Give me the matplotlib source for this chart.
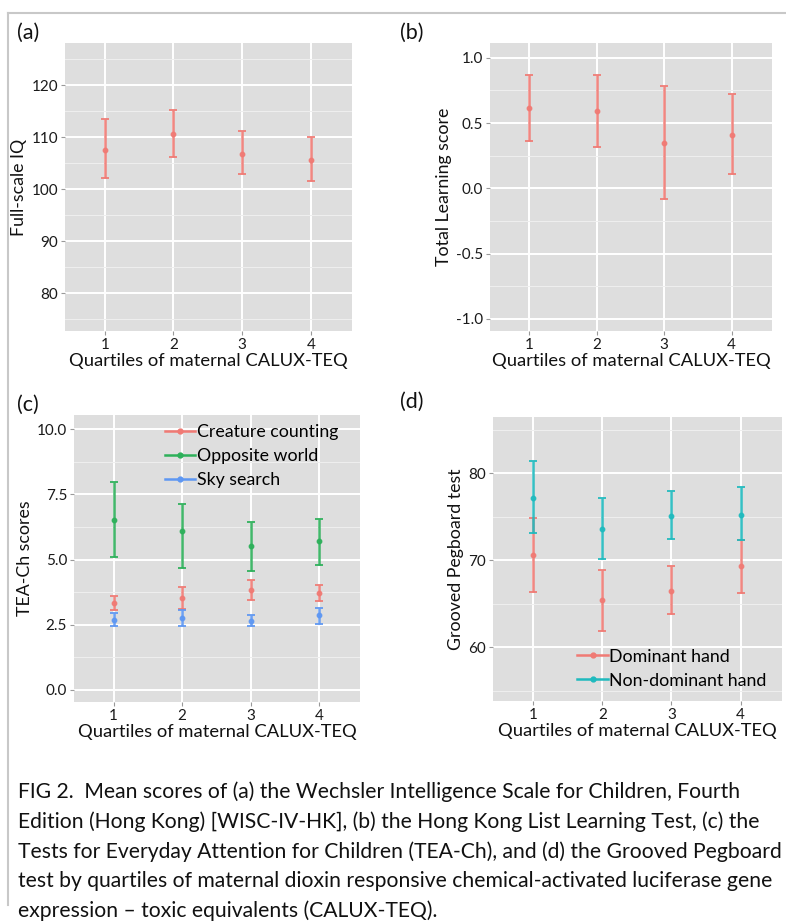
import matplotlib
matplotlib.use("Agg")
import matplotlib.pyplot as plt
from matplotlib.lines import Line2D
from matplotlib.ticker import MultipleLocator

plt.rcParams['font.family'] = ['Lato', 'DejaVu Sans']
plt.rcParams['axes.unicode_minus'] = False

quartiles = [1, 2, 3, 4]

# (a) Full-scale IQ
iq_mean = [107.6, 110.6, 106.7, 105.7]
iq_low = [102.1, 106.1, 102.9, 101.5]
iq_high = [113.5, 115.3, 111.1, 110.1]

# (b) Total learning score
learn_mean = [0.615, 0.59, 0.35, 0.41]
learn_low = [0.36, 0.32, -0.085, 0.11]
learn_high = [0.865, 0.865, 0.78, 0.72]

# (c) TEA-Ch
creature_mean = [3.33, 3.52, 3.85, 3.70]
creature_low = [3.07, 3.10, 3.44, 3.42]
creature_high = [3.61, 3.93, 4.21, 4.02]
opposite_mean = [6.53, 6.10, 5.51, 5.72]
opposite_low = [5.08, 4.69, 4.58, 4.79]
opposite_high = [7.97, 7.13, 6.45, 6.54]
sky_mean = [2.69, 2.76, 2.66, 2.86]
sky_low = [2.44, 2.44, 2.46, 2.54]
sky_high = [2.95, 3.07, 2.88, 3.16]
tea_labels = ["Creature counting", "Opposite world", "Sky search"]

# (d) Grooved Pegboard
dom_mean = [70.6, 65.4, 66.5, 69.35]
dom_low = [66.4, 61.9, 63.8, 66.2]
dom_high = [74.9, 68.9, 69.4, 72.3]
nondom_mean = [77.15, 73.65, 75.06, 75.25]
nondom_low = [73.2, 70.1, 72.4, 72.3]
nondom_high = [81.4, 77.15, 78.0, 78.4]
peg_labels = ["Dominant hand", "Non-dominant hand"]

xlabel = "Quartiles of maternal CALUX-TEQ"
caption = [
    "FIG 2.  Mean scores of (a) the Wechsler Intelligence Scale for Children, Fourth",
    "Edition (Hong Kong) [WISC-IV-HK], (b) the Hong Kong List Learning Test, (c) the",
    "Tests for Everyday Attention for Children (TEA-Ch), and (d) the Grooved Pegboard",
    "test by quartiles of maternal dioxin responsive chemical-activated luciferase gene",
    "expression \u2013 toxic equivalents (CALUX-TEQ).",
]

RED = '#F07A74'
GREEN = '#2DB05A'
BLUE = '#5E97F2'
TEAL = '#1FBABE'

W, H = 786, 923
fig = plt.figure(figsize=(W / 100, H / 100), dpi=100)


def px_axes(left, top, right, bottom):
    return fig.add_axes([left / W, 1 - bottom / H, (right - left) / W, (bottom - top) / H])


def style(ax, ylim, major, ylabel):
    ax.set_facecolor('#DEDEDE')
    ax.set_xlim(0.42, 4.6)
    ax.set_ylim(*ylim)
    ax.set_xticks(quartiles)
    ax.yaxis.set_major_locator(MultipleLocator(major))
    ax.yaxis.set_minor_locator(MultipleLocator(major / 2))
    ax.grid(which='major', color='white', lw=1.4)
    ax.grid(which='minor', axis='y', color='#EFEFEF', lw=0.7)
    ax.set_axisbelow(True)
    for s in ax.spines.values():
        s.set_visible(False)
    ax.tick_params(which='major', length=3, width=0.8, color='#999999',
                   labelsize=11, labelcolor='#1a1a1a', pad=2)
    ax.tick_params(which='minor', length=0)
    ax.set_xlabel(xlabel, fontsize=13.2, color='#111111', labelpad=1)
    ax.set_ylabel(ylabel, fontsize=12.8, color='#111111', labelpad=3)


def bars(ax, mean, low, high, color, label=None):
    yerr = [[m - l for m, l in zip(mean, low)], [h - m for m, h in zip(mean, high)]]
    ax.errorbar(quartiles, mean, yerr=yerr, fmt='o', color=color, ecolor=color,
                elinewidth=1.8, capsize=3, capthick=1.4, markersize=3.2,
                markeredgecolor=color, alpha=0.9, label=label, zorder=3)


# (a)
ax_a = px_axes(65, 43, 352, 331)
style(ax_a, (72.75, 128.1), 10, "Full-scale IQ")
bars(ax_a, iq_mean, iq_low, iq_high, RED)

# (b)
ax_b = px_axes(490, 43, 772, 331)
style(ax_b, (-1.092, 1.113), 0.5, "Total Learning score")
bars(ax_b, learn_mean, learn_low, learn_high, RED)

# (c)
ax_c = px_axes(74, 415, 360, 702)
style(ax_c, (-0.46, 10.54), 2.5, "TEA-Ch scores")
bars(ax_c, creature_mean, creature_low, creature_high, RED)
bars(ax_c, opposite_mean, opposite_low, opposite_high, GREEN)
bars(ax_c, sky_mean, sky_low, sky_high, BLUE)
handles_c = [Line2D([], [], color=c, marker='o', markersize=3.5, lw=1.8)
             for c in (RED, GREEN, BLUE)]
ax_c.legend(handles_c, tea_labels, loc='upper center', bbox_to_anchor=(0.62, 1.0),
            frameon=False, fontsize=12.8, handlelength=1.7, handletextpad=0.1,
            labelspacing=0.45, borderaxespad=0.1)

# (d)
ax_d = px_axes(493, 417, 782, 701)
style(ax_d, (53.8, 86.5), 10, "Grooved Pegboard test")
bars(ax_d, dom_mean, dom_low, dom_high, RED)
bars(ax_d, nondom_mean, nondom_low, nondom_high, TEAL)
handles_d = [Line2D([], [], color=c, marker='o', markersize=3.5, lw=1.8)
             for c in (RED, TEAL)]
ax_d.legend(handles_d, peg_labels, loc='lower center', bbox_to_anchor=(0.62, 0.0),
            frameon=False, fontsize=12.8, handlelength=1.7, handletextpad=0.1,
            labelspacing=0.45, borderaxespad=0.3)

# panel letters
for letter, x, y in [("(a)", 17, 33), ("(b)", 400, 33), ("(c)", 17, 405), ("(d)", 400, 402)]:
    fig.text(x / W, 1 - y / H, letter, fontsize=15.5, va='center', ha='left', color='#111111')

# caption
for i, line in enumerate(caption):
    fig.text(18 / W, 1 - (792 + i * 29.8) / H, line, fontsize=15.2, va='center', ha='left',
             color='#111111')

# light frame lines (top and left)
fig.add_artist(Line2D([8 / W, 1], [1 - 13 / H, 1 - 13 / H], color='#C8C8C8', lw=1.5))
fig.add_artist(Line2D([8 / W, 8 / W], [1 - 13 / H, 1 - 905 / H], color='#C8C8C8', lw=1.5))

fig.savefig("out.png", dpi=100)
